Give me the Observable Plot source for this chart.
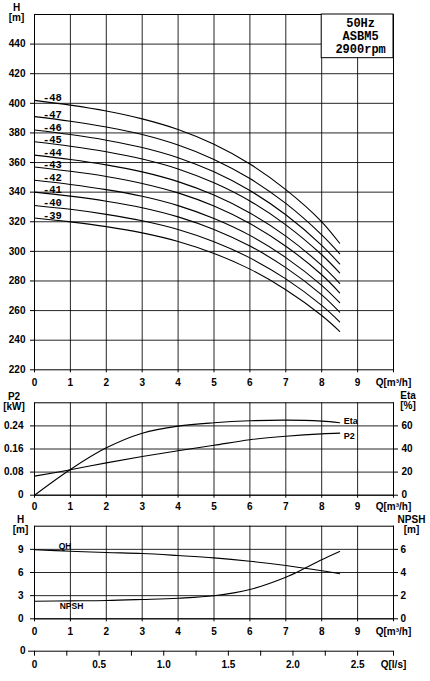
<!DOCTYPE html>
<html>
<head>
<meta charset="utf-8">
<script src="https://cdn.jsdelivr.net/npm/d3@7"></script>
<script src="https://cdn.jsdelivr.net/npm/@observablehq/plot@0.6"></script>
<style>
  body { margin: 0; background: white; }
  #chart svg { display: block; }
</style>
</head>
<body>
<div id="chart"></div>
<script>
// ---------- data ----------
const flowQ = [0, 1, 2, 3, 4, 5, 6, 7, 8, 8.5];           // m³/h
const stageNames = ["-48", "-47", "-46", "-45", "-44", "-43", "-42", "-41", "-40", "-39"];
const h48 = [402, 398.8, 394.8, 389.5, 382.3, 372.3, 359.0, 341.7, 320.0, 305.5];
const h47 = [391, 387.9, 384.0, 378.9, 371.8, 362.1, 349.2, 332.4, 311.2, 298.5];
const h46 = [382, 378.9, 375.1, 370.2, 363.3, 353.7, 341.1, 324.7, 304.1, 291.5];
const h45 = [374, 371.0, 367.3, 362.4, 355.7, 346.3, 334.0, 317.9, 297.7, 285.5];
const h44 = [365, 362.1, 358.4, 353.7, 347.1, 338.0, 325.9, 310.3, 290.5, 278.4];
const h43 = [357, 354.1, 350.6, 345.9, 339.5, 330.6, 318.8, 303.5, 284.2, 272.0];
const h42 = [348, 345.2, 341.7, 337.2, 330.9, 322.2, 310.8, 295.8, 277.0, 265.3];
const h41 = [340, 337.3, 333.9, 329.5, 323.3, 314.8, 303.6, 289.0, 270.6, 259.0];
const h40 = [331, 328.4, 325.0, 320.7, 314.8, 306.5, 295.6, 281.4, 263.5, 252.4];
const h39 = [322.5, 319.9, 316.7, 312.5, 306.7, 298.6, 288.0, 274.1, 256.7, 246.0];
const headCurves = [h48, h47, h46, h45, h44, h43, h42, h41, h40, h39];

const p2kW   = [0.066, 0.088, 0.112, 0.134, 0.154, 0.173, 0.192, 0.204, 0.2125, 0.215];
const etaPct = [0, 22.3, 41, 53.7, 59.8, 62.7, 64.4, 65, 64.1, 62.7];

const qhStage = [8.94, 8.76, 8.59, 8.46, 8.2, 7.9, 7.46, 6.9, 6.22, 5.83];
const npshQ   = [0, 1, 2, 3, 4, 5, 6, 7, 7.5, 8, 8.5];
const npshM   = [1.52, 1.55, 1.58, 1.67, 1.78, 1.99, 2.53, 3.59, 4.32, 5.1, 5.81];

const qTicks    = [0, 1, 2, 3, 4, 5, 6, 7, 8, 9, 10];
const hTicks    = [220, 240, 260, 280, 300, 320, 340, 360, 380, 400, 420, 440];
const hGrid     = [240, 260, 280, 300, 320, 340, 360, 380, 400, 420, 440];
const p2Ticks   = [0, 0.08, 0.16, 0.24];
const smallH    = [0, 3, 6, 9];
const lsTicks   = [0, 0.25, 0.5, 0.75, 1.0, 1.25, 1.5, 1.75, 2.0, 2.25, 2.5, 10 / 3.6];
const lsLabels  = [0, 0.5, 1.0, 1.5, 2.0, 2.5];
const infoText  = ["50Hz\nASBM5\n2900rpm"];
const infoBox   = [{q1: 8, q2: 10, h1: 430.5, h2: 460}];

const ETA_SCALE  = 0.32 / 80;   // right axis of panel 2
const NPSH_SCALE = 12 / 8;      // right axis of panel 3

// ---------- styles ----------
const FONT = "'Liberation Sans', Arial, sans-serif";
const baseStyle = {fontFamily: FONT, fontSize: "10px", fontWeight: "bold", background: "white", color: "#000", overflow: "visible"};
const gridStyle = {stroke: "#000", strokeOpacity: 0.85, strokeWidth: 1};
const W = 430, ML = 34, MR = 37;

const chart = document.getElementById("chart");

// ---------- panel 1 : H-Q ----------
const headRows = [];
headCurves.forEach((arr, i) => arr.forEach((h, j) => headRows.push({stage: stageNames[i], q: flowQ[j], h})));
const stageLabels = headCurves.map((arr, i) => ({stage: stageNames[i], q: 0.5, h: arr[0]}));

chart.append(Plot.plot({
  width: W, height: 388, marginLeft: ML, marginRight: MR, marginTop: 14, marginBottom: 18.7,
  style: baseStyle,
  x: {domain: [0, 10]},
  y: {domain: [220, 460]},
  marks: [
    Plot.gridX({ticks: qTicks, ...gridStyle}),
    Plot.gridY({ticks: hGrid, ...gridStyle}),
    Plot.frame({stroke: "#000"}),
    Plot.axisX({ticks: qTicks, tickSize: 3, tickPadding: 6, label: null,
      tickFormat: d => d === 10 ? "Q[m³/h]" : String(d)}),
    Plot.axisY({ticks: hTicks, tickSize: 4, tickPadding: 5, label: null}),
    Plot.line(headRows, {x: "q", y: "h", z: "stage", stroke: "#000", strokeWidth: 1.1, curve: "catmull-rom"}),
    Plot.text(stageLabels, {x: "q", y: "h", text: "stage", lineAnchor: "bottom", dy: 1,
      fontSize: 10.5, fontFamily: "'Liberation Mono', monospace", fontWeight: "bold"}),
    Plot.rect(infoBox, {x1: "q1", x2: "q2", y1: "h1", y2: "h2", fill: "white", stroke: "#000"}),
    Plot.text(infoText, {x: () => 9, y: () => 460, text: d => d, lineAnchor: "top", dy: 3, dx: 3,
      lineHeight: 1.1, fontSize: 12, fontFamily: "'Liberation Mono', monospace", fontWeight: "bold"}),
    Plot.text(["H\n[m]"], {frameAnchor: "top-left", text: d => d, textAnchor: "middle", lineAnchor: "middle",
      dx: -18, dy: -2})
  ]
}));

// ---------- panel 2 : P2 / Eta ----------
const p2Rows  = flowQ.map((q, i) => ({q, v: p2kW[i]}));
const etaRows = flowQ.map((q, i) => ({q, v: etaPct[i] * ETA_SCALE}));

chart.append(Plot.plot({
  width: W, height: 125, marginLeft: ML, marginRight: MR, marginTop: 14.3, marginBottom: 18.3,
  style: baseStyle,
  x: {domain: [0, 10]},
  y: {domain: [0, 0.32]},
  marks: [
    Plot.gridX({ticks: qTicks, ...gridStyle}),
    Plot.gridY({ticks: p2Ticks, ...gridStyle}),
    Plot.frame({stroke: "#000"}),
    Plot.axisX({ticks: qTicks, tickSize: 3, tickPadding: 4.5, label: null,
      tickFormat: d => d === 10 ? "Q[m³/h]" : String(d)}),
    Plot.axisY({ticks: p2Ticks, tickSize: 4, tickPadding: 7, label: null,
      tickFormat: d => d === 0 ? "0" : d.toFixed(2)}),
    Plot.axisY({anchor: "right", ticks: p2Ticks, tickSize: 4, tickPadding: 4, label: null,
      tickFormat: d => String(Math.round(d / ETA_SCALE))}),
    Plot.line(p2Rows,  {x: "q", y: "v", stroke: "#000", strokeWidth: 1.1, curve: "catmull-rom"}),
    Plot.line(etaRows, {x: "q", y: "v", stroke: "#000", strokeWidth: 1.1, curve: "catmull-rom"}),
    Plot.text(etaRows.slice(-1), {x: "q", y: "v", text: () => "Eta", textAnchor: "start", dx: 4, dy: -2, fontSize: 9}),
    Plot.text(p2Rows.slice(-1),  {x: "q", y: "v", text: () => "P2",  textAnchor: "start", dx: 4, dy: 3, fontSize: 9}),
    Plot.text(["P2\n[kW]"], {frameAnchor: "top-left", text: d => d, textAnchor: "middle", lineAnchor: "middle", dx: -20.5, dy: -1}),
    Plot.text(["Eta\n[%]"], {frameAnchor: "top-right", text: d => d, textAnchor: "middle", lineAnchor: "middle", dx: 14.5, dy: -2})
  ]
}));

// ---------- panel 3 : QH per stage / NPSH ----------
const qhRows   = flowQ.map((q, i) => ({q, v: qhStage[i]}));
const npshRows = npshQ.map((q, i) => ({q, v: npshM[i] * NPSH_SCALE}));

chart.append(Plot.plot({
  width: W, height: 127, marginLeft: ML, marginRight: MR, marginTop: 12.7, marginBottom: 21.7,
  style: baseStyle,
  x: {domain: [0, 10]},
  y: {domain: [0, 12]},
  marks: [
    Plot.gridX({ticks: qTicks, ...gridStyle}),
    Plot.gridY({ticks: smallH, ...gridStyle}),
    Plot.frame({stroke: "#000"}),
    Plot.axisX({ticks: qTicks, tickSize: 3, tickPadding: 6, label: null,
      tickFormat: d => d === 10 ? "Q[m³/h]" : String(d)}),
    Plot.axisY({ticks: smallH, tickSize: 4, tickPadding: 7, label: null}),
    Plot.axisY({anchor: "right", ticks: smallH, tickSize: 4, tickPadding: 3, label: null,
      tickFormat: d => String(Math.round(d / NPSH_SCALE))}),
    Plot.line(qhRows,   {x: "q", y: "v", stroke: "#000", strokeWidth: 1.1, curve: "catmull-rom"}),
    Plot.line(npshRows, {x: "q", y: "v", stroke: "#000", strokeWidth: 1.1, curve: "catmull-rom"}),
    Plot.text(qhRows.slice(0, 1),   {x: () => 0.85, y: "v", text: () => "QH",   lineAnchor: "bottom", dy: -1, fontSize: 8.5}),
    Plot.text(npshRows.slice(1, 2), {x: () => 1.03, y: "v", text: () => "NPSH", lineAnchor: "top", dy: 2, fontSize: 8.5}),
    Plot.text(["H\n[m]"], {frameAnchor: "top-left", text: d => d, textAnchor: "middle", lineAnchor: "middle", dx: -14, dy: -1}),
    Plot.text(["NPSH\n[m]"], {frameAnchor: "top-right", text: d => d, textAnchor: "middle", lineAnchor: "middle", dx: 18, dy: -1})
  ]
}));

// ---------- panel 4 : Q in l/s ----------
chart.append(Plot.plot({
  width: W, height: 41, marginLeft: ML, marginRight: MR, marginTop: 5, marginBottom: 30.3,
  style: baseStyle,
  x: {domain: [0, 10 / 3.6]},
  y: {domain: [0, 1]},
  marks: [
    Plot.ruleY([0], {stroke: "#000"}),
    Plot.axisX({ticks: lsTicks, tickSize: 5, tickPadding: 4.5, label: null,
      tickFormat: d => Math.abs(d - 10 / 3.6) < 1e-9 ? "Q[l/s]"
        : lsLabels.some(v => Math.abs(v - d) < 1e-9) ? (d === 0 ? "0" : d.toFixed(1)) : ""})
  ]
}));
</script>
</body>
</html>
